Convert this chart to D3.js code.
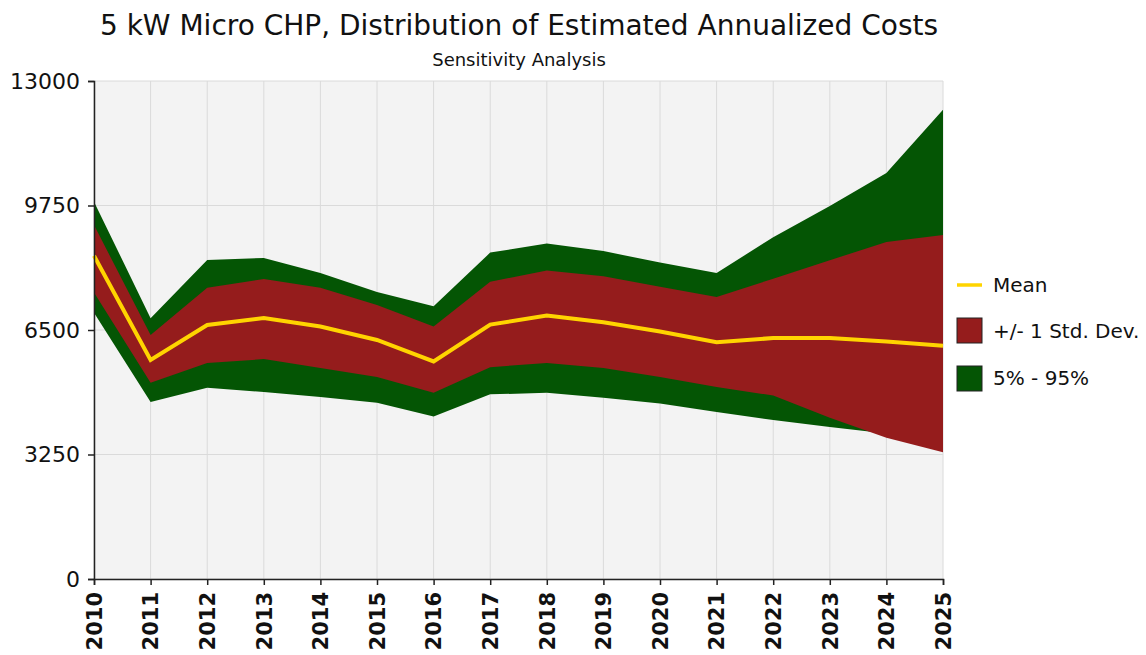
<!DOCTYPE html>
<html>
<head>
<meta charset="utf-8">
<script src="https://cdn.jsdelivr.net/npm/d3@7"></script>
<style>
  body { margin: 0; background: #fff; }
  text { font-family: Tahoma, "DejaVu Sans", "Noto Sans", sans-serif; fill: #111; }
</style>
</head>
<body>
<div id="chart"></div>
<script>
// data
var years = [2010, 2011, 2012, 2013, 2014, 2015, 2016, 2017, 2018, 2019, 2020, 2021, 2022, 2023, 2024, 2025];
var p95 = [9850, 6810, 8330, 8380, 7990, 7490, 7120, 8520, 8760, 8560, 8260, 7990, 8920, 9740, 10600, 12250];
var sdHigh = [9240, 6370, 7600, 7830, 7600, 7150, 6590, 7760, 8050, 7900, 7630, 7360, 7840, 8320, 8800, 8980];
var mean = [8440, 5720, 6630, 6810, 6590, 6240, 5680, 6640, 6880, 6700, 6460, 6180, 6290, 6290, 6200, 6090];
var sdLow = [7480, 5120, 5640, 5740, 5510, 5270, 4860, 5530, 5640, 5510, 5270, 5010, 4790, 4210, 3690, 3310];
var p5 = [6950, 4620, 4990, 4880, 4750, 4600, 4240, 4820, 4860, 4730, 4580, 4360, 4150, 3970, 3800, 3600];
var yTicks = [0, 3250, 6500, 9750, 13000];

var W = 1146, H = 655;
var m = { left: 94, right: 203, top: 81, bottom: 76 };

var svg = d3.select('#chart').append('svg')
  .attr('width', W)
  .attr('height', H);

var x = d3.scaleLinear().domain([2010, 2025]).range([m.left, W - m.right]);
var y = d3.scaleLinear().domain([0, 13000]).range([H - m.bottom, m.top]);

// plot background
svg.append('rect')
  .attr('x', x(2010))
  .attr('y', y(13000))
  .attr('width', x(2025) - x(2010))
  .attr('height', y(0) - y(13000))
  .attr('fill', '#f3f3f3');

// grid
var grid = svg.append('g');
grid.selectAll('line.v').data(years).enter().append('line')
  .attr('x1', function (d) { return x(d); })
  .attr('x2', function (d) { return x(d); })
  .attr('y1', y(13000))
  .attr('y2', y(0))
  .attr('stroke', '#dadada')
  .attr('stroke-width', 1);
grid.selectAll('line.h').data(yTicks).enter().append('line')
  .attr('x1', x(2010))
  .attr('x2', x(2025))
  .attr('y1', function (d) { return y(d); })
  .attr('y2', function (d) { return y(d); })
  .attr('stroke', '#dadada')
  .attr('stroke-width', 1);

// bands
function band(lo, hi) {
  return d3.area()
    .x(function (d, i) { return x(years[i]); })
    .y0(function (d, i) { return y(lo[i]); })
    .y1(function (d, i) { return y(hi[i]); })(years);
}
svg.append('path').attr('d', band(p5, p95)).attr('fill', '#045504');
svg.append('path').attr('d', band(sdLow, sdHigh)).attr('fill', '#951c1c');

// mean
var line = d3.line()
  .x(function (d, i) { return x(years[i]); })
  .y(function (d) { return y(d); });
svg.append('path')
  .attr('d', line(mean))
  .attr('fill', 'none')
  .attr('stroke', '#ffd400')
  .attr('stroke-width', 4);

// axes
var yAxis = svg.append('g')
  .attr('transform', 'translate(' + m.left + ',0)')
  .call(d3.axisLeft(y).tickValues(yTicks).tickSize(6).tickPadding(8).tickFormat(d3.format('d')));
yAxis.selectAll('text').style('font-size', '22px').attr('fill', '#222');

var xAxis = svg.append('g')
  .attr('transform', 'translate(0,' + (H - m.bottom) + ')')
  .call(d3.axisBottom(x).tickValues(years).tickSize(6).tickFormat(d3.format('d')));
xAxis.selectAll('text')
  .style('font-size', '21px')
  .style('font-weight', 'bold')
  .attr('fill', '#111')
  .attr('transform', 'rotate(-90)')
  .attr('text-anchor', 'end')
  .attr('x', -13)
  .attr('y', 0)
  .attr('dy', '0.35em');

svg.selectAll('.domain').attr('stroke', '#222').attr('stroke-width', 1.5);
svg.selectAll('.tick line').attr('stroke', '#222').attr('stroke-width', 1.5);

// titles
svg.append('text')
  .attr('x', 519)
  .attr('y', 35)
  .attr('text-anchor', 'middle')
  .style('font-size', '28px')
  .text('5 kW Micro CHP, Distribution of Estimated Annualized Costs');
svg.append('text')
  .attr('x', 519)
  .attr('y', 66)
  .attr('text-anchor', 'middle')
  .style('font-size', '18px')
  .text('Sensitivity Analysis');

// legend
var lg = svg.append('g').attr('transform', 'translate(957,0)');
lg.append('line')
  .attr('x1', 0).attr('x2', 25)
  .attr('y1', 285).attr('y2', 285)
  .attr('stroke', '#ffd400').attr('stroke-width', 3.5);
lg.append('text').attr('x', 36).attr('y', 292).style('font-size', '20px').text('Mean');
lg.append('rect')
  .attr('x', 0).attr('y', 318).attr('width', 25).attr('height', 25)
  .attr('fill', '#951c1c').attr('stroke', '#222').attr('stroke-width', 1);
lg.append('text').attr('x', 36).attr('y', 338).style('font-size', '20px').text('+/- 1 Std. Dev.');
lg.append('rect')
  .attr('x', 0).attr('y', 366).attr('width', 25).attr('height', 25)
  .attr('fill', '#045504').attr('stroke', '#222').attr('stroke-width', 1);
lg.append('text').attr('x', 36).attr('y', 385).style('font-size', '20px').text('5% - 95%');
</script>
</body>
</html>
